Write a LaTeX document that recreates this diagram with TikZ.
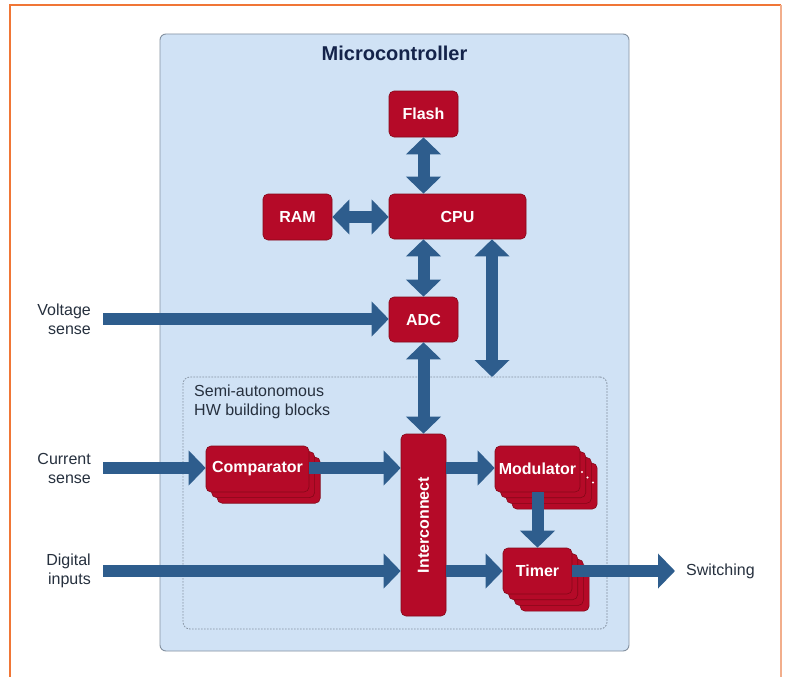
\documentclass[tikz,border=0pt]{standalone}
\usepackage{fontspec}
\setsansfont{Liberation Sans}
\usepackage{tikz}
\usetikzlibrary{arrows.meta,calc,positioning}
\definecolor{frame}{HTML}{F07636}
\definecolor{framelight}{HTML}{F2AE8C}
\definecolor{chip}{HTML}{D0E2F5}
\definecolor{chipline}{HTML}{8491A0}
\definecolor{block}{HTML}{B50A28}
\definecolor{blockline}{HTML}{850818}
\definecolor{bus}{HTML}{2E5D8D}
\definecolor{title}{HTML}{14234A}
\definecolor{muted}{HTML}{26303E}
\tikzset{
  font=\sffamily\fontsize{16}{19}\selectfont,
  hw/.style={
    draw=blockline, line width=.6pt, rounded corners=5pt, fill=block,
    text=white, font=\sffamily\bfseries\fontsize{16}{19}\selectfont,
    inner sep=0pt, minimum width=69pt, minimum height=46pt
  },
  ghost/.style={hw, text=block},
  chipbox/.style={draw=chipline, line width=.9pt, rounded corners=6pt, fill=chip},
  hwgroup/.style={draw=chipline, line width=.8pt, rounded corners=7pt, dash pattern=on 1.6pt off 1.4pt},
  flow/.style={-{Triangle[length=17pt,width=34pt]}, draw=bus, line width=12pt},
  dflow/.style={{Triangle[length=17pt,width=34pt]}-{Triangle[length=17pt,width=34pt]}, draw=bus, line width=12pt},
  sig/.style={text=muted, align=right, inner sep=0pt},
  heading/.style={text=title, font=\sffamily\bfseries\fontsize{20}{23}\selectfont}
}

\begin{document}
\begin{tikzpicture}[x=1pt, y=-1pt]
  \useasboundingbox (0,0) rectangle (787,677);
  \fill[white] (0,0) rectangle (787,677);
  \draw[frame, line width=1.3pt] (10,677) -- (10,5) -- (781,5);
  \draw[framelight, line width=1.3pt] (781,5) -- (781,677);

  \node[chipbox, minimum width=469pt, minimum height=617pt, inner sep=0pt] (mcu) at (394.5,342.5) {};
  \node[heading] (mcutitle) at (394.5,53) {Microcontroller};
  \node[hwgroup, minimum width=424pt, minimum height=252pt, inner sep=0pt] (hwblocks) at (395,503) {};
  \node[text=muted, align=left, anchor=north west, inner sep=0pt] (hwnote) at (194,385) {Semi-autonomous\\HW building blocks};

  % core blocks
  \node[hw] (flash) at (423.5,114) {Flash};
  \node[hw, minimum width=137pt, minimum height=45pt] (cpu) at (457.5,216.5) {CPU};
  \node[hw] (ram) at (297.5,217) {RAM};
  \node[hw, minimum height=45pt] (adc) at (423.5,319.5) {ADC};
  \node[hw, minimum width=45pt, minimum height=182pt] (inter) at (423.5,525) {\rotatebox{90}{Interconnect}};

  % stacked building blocks
  \foreach \k in {2,1}
    \node[ghost, minimum width=103pt, name=comp\k] at ($(257.5,469)+(\k*5.6,\k*5.6)$) {};
  \node[hw, minimum width=103pt] (comp) at (257.5,469) {Comparator};
  \foreach \k in {3,2,1}
    \node[ghost, minimum width=85pt, name=mod\k] at ($(537.5,469)+(\k*5.7,\k*5.7)$) {};
  \node[hw, minimum width=85pt] (mod) at (537.5,469) {Modulator};
  \foreach \d/\p in {1/{(582,472)},2/{(587.5,477.5)},3/{(593,482.5)}}
    \fill[white] \p circle (1.1pt);
  \foreach \k in {3,2,1}
    \node[ghost, name=timer\k] at ($(537.5,571)+(\k*5.7,\k*5.7)$) {};
  \node[hw] (timer) at (537.5,571) {Timer};

  % outside signals
  \node[sig, anchor=east] (vsense) at (91,319) {Voltage\\sense};
  \node[sig, anchor=east] (csense) at (91,468) {Current\\sense};
  \node[sig, anchor=east] (dinputs) at (91,571) {Digital\\inputs};
  \node[text=muted, anchor=west, inner sep=0pt] (switching) at (686,571) {Switching};
  \coordinate (vin) at ($(vsense.east)+(12,0)$);
  \coordinate (cin) at ($(csense.east)+(12,0)$);
  \coordinate (din) at ($(dinputs.east)+(12,0)$);
  \coordinate (sout) at ($(switching.west)+(-11,0)$);
  \coordinate (busend) at (492,377);

  % buses
  \draw[dflow] (flash.south) -- (flash.south |- cpu.north);
  \draw[dflow] (ram.east) -- (ram.east -| cpu.west);
  \draw[dflow] (adc.north |- cpu.south) -- (adc.north);
  \draw[dflow] (busend |- cpu.south) -- (busend);
  \draw[dflow] (adc.south) -- (inter.north);
  \draw[flow] (vin) -- (vin -| adc.west);
  \draw[flow] (cin) -- (cin -| comp.west);
  \draw[flow] (cin -| comp.east) -- (cin -| inter.west);
  \draw[flow] (cin -| inter.east) -- (cin -| mod.west);
  \draw[flow] (mod.south) -- (timer.north);
  \draw[flow] (din) -- (din -| inter.west);
  \draw[flow] (din -| inter.east) -- (din -| timer.west);
  \draw[flow] (timer.east) -- (sout);
\end{tikzpicture}
\end{document}
